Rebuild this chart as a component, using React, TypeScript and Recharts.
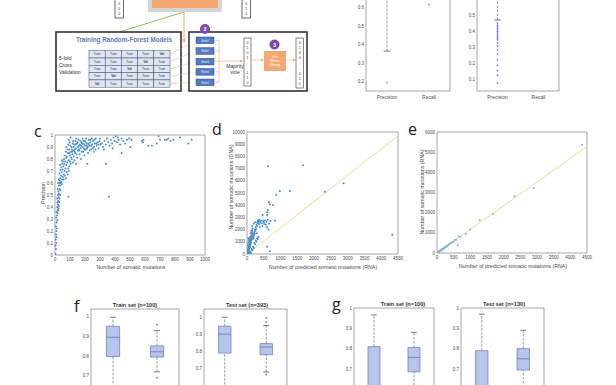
import React from 'react';
import { ScatterChart, Scatter, XAxis, YAxis, ReferenceArea, ReferenceLine } from 'recharts';

const FONT = '"Liberation Sans", Arial, Helvetica, sans-serif';
const YW = 22;
const XH = 12;
const TPAD = 4;
const RPAD = 10;
const FRAME = '#8f8f8f';
const TEXT = '#4a4a4a';

type Pt = [number, number];
type Box = [number, number, number, number, number]; // low whisker, q1, median, q3, high whisker
type Rect = { x: number; y: number; w: number; h: number };

// ---- panel c: precision vs number of somatic mutations
const cXTicks = [0, 100, 200, 300, 400, 500, 600, 700, 800, 900, 1000];
const cYTicks = [0, 0.1, 0.2, 0.3, 0.4, 0.5, 0.6, 0.7, 0.8, 0.9, 1];
const cPoints: Pt[] = [
  [3, 0.01], [6, 0.05], [4, 0.08], [8, 0.1], [5, 0.13], [10, 0.15], [7, 0.17], [9, 0.2], [12, 0.22], [6, 0.24],
  [11, 0.27], [14, 0.29], [8, 0.31], [13, 0.33], [16, 0.35], [10, 0.36], [18, 0.38], [15, 0.4], [21, 0.37], [24, 0.39],
  [19, 0.42], [26, 0.41], [17, 0.44], [22, 0.45], [28, 0.44], [14, 0.47], [25, 0.48], [30, 0.47], [20, 0.5], [27, 0.51],
  [33, 0.5], [23, 0.53], [18, 0.55], [31, 0.55], [36, 0.54], [26, 0.58], [34, 0.58], [21, 0.6], [29, 0.6], [38, 0.6],
  [32, 0.62], [42, 0.61], [25, 0.63], [45, 0.59], [36, 0.64], [48, 0.63],
  [40, 0.66], [52, 0.65], [30, 0.68], [44, 0.69], [58, 0.67], [36, 0.71], [50, 0.71], [64, 0.7], [42, 0.73], [56, 0.74],
  [70, 0.72], [48, 0.76], [62, 0.76], [76, 0.75], [34, 0.75], [54, 0.78], [68, 0.78], [82, 0.77], [45, 0.79], [60, 0.8],
  [90, 0.79], [74, 0.81], [100, 0.78], [112, 0.8], [66, 0.66], [78, 0.69], [88, 0.72], [96, 0.74], [104, 0.76], [120, 0.77],
  [58, 0.63], [72, 0.64], [84, 0.67], [130, 0.79], [92, 0.7], [140, 0.76],
  [64, 0.83], [72, 0.86], [80, 0.82], [86, 0.85], [94, 0.88], [100, 0.83], [106, 0.86], [110, 0.9], [116, 0.84], [122, 0.87],
  [128, 0.92], [134, 0.85], [140, 0.89], [146, 0.93], [152, 0.87], [158, 0.91], [164, 0.84], [170, 0.89], [176, 0.94], [182, 0.9],
  [188, 0.86], [194, 0.92], [200, 0.95], [206, 0.88], [212, 0.93], [218, 0.9], [224, 0.96], [230, 0.91], [236, 0.94], [242, 0.88],
  [248, 0.92], [254, 0.95], [260, 0.9], [266, 0.93], [272, 0.97], [278, 0.91], [284, 0.94], [290, 0.89], [296, 0.95], [302, 0.92],
  [76, 0.9], [88, 0.92], [98, 0.94], [108, 0.81], [118, 0.93], [126, 0.82], [136, 0.95], [148, 0.81], [156, 0.96], [166, 0.92],
  [172, 0.8], [184, 0.97], [196, 0.83], [208, 0.97], [220, 0.85], [232, 0.87], [245, 0.97], [258, 0.86], [270, 0.88], [92, 0.96],
  [104, 0.98], [120, 0.95], [142, 0.97], [162, 0.87], [178, 0.86], [190, 0.95], [202, 0.91], [214, 0.89], [226, 0.93], [240, 0.91],
  [252, 0.89], [264, 0.96], [276, 0.93], [288, 0.92], [300, 0.97], [112, 0.88], [124, 0.9], [132, 0.88], [144, 0.84], [154, 0.9],
  [168, 0.95], [186, 0.93], [198, 0.88], [210, 0.91], [216, 0.76], [82, 0.88], [96, 0.85], [102, 0.91], [114, 0.86], [130, 0.86],
  [138, 0.92], [150, 0.94], [160, 0.88], [174, 0.91], [180, 0.93], [192, 0.89], [204, 0.94], [222, 0.92], [234, 0.96],
  [312, 0.93], [320, 0.9], [330, 0.95], [338, 0.92], [346, 0.97], [356, 0.94], [364, 0.91], [372, 0.96], [380, 0.93], [390, 0.98],
  [398, 0.95], [406, 0.99], [414, 0.94], [424, 0.96], [434, 0.92], [444, 0.97], [456, 0.95], [468, 0.93], [480, 0.96], [494, 0.97],
  [502, 0.9], [510, 0.96], [340, 0.76], [360, 0.485], [89, 0.485], [444, 0.85], [384, 0.89], [420, 0.98], [326, 0.88],
  [580, 0.95], [586, 0.94], [590, 0.96], [622, 0.91], [646, 0.91], [678, 0.93], [690, 0.99], [700, 0.96], [733, 0.96], [745, 0.96],
  [755, 0.97], [770, 0.95], [789, 0.96], [833, 0.98], [889, 0.93], [911, 0.96],
];

// ---- panel d: DNA vs predicted (RNA)
const dXTicks = [0, 500, 1000, 1500, 2000, 2500, 3000, 3500, 4000, 4500];
const dYTicks = [0, 1000, 2000, 3000, 4000, 5000, 6000, 7000, 8000, 9000, 10000];
const dPoints: Pt[] = [
  [10, 50], [20, 120], [30, 80], [15, 250], [40, 200], [25, 350], [50, 300], [35, 450], [60, 150], [45, 600],
  [70, 400], [55, 520], [80, 650], [65, 750], [90, 550], [75, 880], [100, 700], [85, 1000], [110, 820], [95, 1100],
  [120, 950], [105, 1250], [130, 1080], [115, 1350], [140, 1200], [125, 1500], [150, 1320], [135, 1650], [160, 1450], [145, 1800],
  [170, 1580], [155, 1950], [180, 1700], [165, 2100], [190, 1250], [200, 1400], [210, 1550], [220, 1800], [230, 1650], [240, 2000],
  [250, 1900], [260, 2200], [270, 2050], [280, 2400], [290, 1700], [300, 2600], [310, 2300], [320, 2750], [330, 2500], [340, 2650],
  [350, 2800], [360, 2450], [370, 2700], [380, 2200], [400, 2600], [420, 2750], [440, 2500], [460, 2300], [480, 2700], [500, 2600],
  [520, 2450], [540, 2750], [560, 2400], [580, 2650], [600, 2200], [620, 2800], [640, 2000], [660, 2500], [700, 2700], [470, 3200],
  [60, 30], [100, 200], [140, 400], [180, 600], [220, 900], [260, 1100], [300, 1300], [340, 1400], [120, 100], [80, 20],
  [200, 500], [240, 800], [160, 300], [280, 1000], [320, 1200], [20, 20], [5, 10], [45, 90], [35, 160], [50, 1100],
  [30, 900], [25, 700], [40, 1300], [70, 1200], [90, 1400], [110, 1700], [130, 1900], [150, 2300], [200, 2500], [240, 2600],
  [830, 2720], [600, 3200], [600, 3420], [620, 3610], [650, 4240], [680, 4080], [770, 4020], [870, 4840], [980, 5160], [1280, 5160],
  [2320, 5110], [2880, 5790], [630, 7200], [1670, 7280], [4330, 1580], [600, 600], [680, 220],
];
const dFit: Pt[] = [[0, 0], [4500, 9680]];

// ---- panel e: RNA vs predicted (RNA)
const eXTicks = [0, 500, 1000, 1500, 2000, 2500, 3000, 3500, 4000, 4500];
const eYTicks = [0, 1000, 2000, 3000, 4000, 5000, 6000];
const ePoints: Pt[] = [
  [10, 12], [18, 30], [26, 22], [35, 48], [42, 45], [55, 70], [63, 66], [74, 95], [82, 88], [95, 118],
  [104, 110], [116, 142], [125, 138], [137, 168], [148, 160], [158, 196], [172, 190], [185, 222], [196, 215], [210, 250],
  [228, 262], [245, 295], [262, 290], [280, 336], [296, 340], [318, 372], [335, 392], [352, 430], [374, 425], [398, 478],
  [425, 495], [455, 548], [492, 560], [530, 640], [575, 660], [650, 830], [620, 380], [705, 790], [870, 950], [1000, 1160],
  [1280, 1620], [1680, 1930], [2330, 2810], [2900, 3220], [4350, 5350],
];
const eFit: Pt[] = [[0, 0], [4500, 5280]];

// ---- box plots
const boxLabels = ['Precision', 'Recall'];
const aStats: Box[] = [[0.366, 0.7, 0.8, 0.88, 0.99], [0.75, 0.86, 0.92, 0.96, 1.0]];
const aOutliers: Pt[] = [[1, 0.195], [2, 0.618]];
const bStats: Box[] = [[0.469, 0.66, 0.76, 0.85, 0.98], [0.62, 0.8, 0.88, 0.94, 1.0]];
const bOutliers: Pt[] = [
  [1, 0.075], [1, 0.123], [1, 0.152], [1, 0.185], [1, 0.22], [1, 0.255], [1, 0.282], [1, 0.307], [1, 0.324], [1, 0.345],
  [1, 0.355], [1, 0.365], [1, 0.375], [1, 0.386], [1, 0.396], [1, 0.407], [1, 0.417], [1, 0.427], [1, 0.437], [1, 0.448],
];
const fTrainStats: Box[] = [[0.6, 0.798, 0.896, 0.952, 0.998], [0.72, 0.795, 0.822, 0.852, 0.93]];
const fTrainOutliers: Pt[] = [[2, 0.96], [2, 0.69]];
const fTestStats: Box[] = [[0.56, 0.79, 0.9, 0.946, 0.998], [0.68, 0.78, 0.825, 0.845, 0.95]];
const fTestOutliers: Pt[] = [[2, 0.994], [2, 0.97], [2, 0.665]];
const gTrainStats: Box[] = [[0.42, 0.52, 0.6, 0.81, 0.966], [0.56, 0.686, 0.757, 0.806, 0.88]];
const gTestStats: Box[] = [[0.42, 0.5, 0.58, 0.79, 0.97], [0.57, 0.695, 0.75, 0.8, 0.89]];

const fmt = (v: number) => String(v);

function ScatterPanel({ r, points, xTicks, yTicks, color, fit }: {
  r: Rect; points: Pt[]; xTicks: number[]; yTicks: number[]; color: string; fit?: Pt[];
}) {
  const data = points.map(([x, y]) => ({ x, y }));
  const xd: [number, number] = [xTicks[0], xTicks[xTicks.length - 1]];
  const yd: [number, number] = [yTicks[0], yTicks[yTicks.length - 1]];
  return (
    <div style={{ position: 'absolute', left: r.x - YW, top: r.y - TPAD }}>
      <ScatterChart width={YW + r.w + RPAD} height={TPAD + r.h + XH} margin={{ top: TPAD, right: RPAD, left: 0, bottom: 0 }}>
        <XAxis type="number" dataKey="x" domain={xd} ticks={xTicks} interval={0} allowDataOverflow height={XH}
          tick={{ fontSize: 4.5, fill: TEXT }} tickLine={false} axisLine={false} tickSize={0} tickMargin={3} tickFormatter={fmt} />
        <YAxis type="number" dataKey="y" domain={yd} ticks={yTicks} interval={0} allowDataOverflow width={YW}
          tick={{ fontSize: 4.5, fill: TEXT }} tickLine={false} axisLine={false} tickSize={0} tickMargin={2} tickFormatter={fmt} />
        <ReferenceArea x1={xd[0]} x2={xd[1]} y1={yd[0]} y2={yd[1]} fill="none" stroke={FRAME} strokeWidth={0.8} ifOverflow="visible" />
        {fit && (
          <ReferenceLine segment={fit.map(([x, y]) => ({ x, y }))} stroke="#ecd89c" strokeWidth={1} ifOverflow="visible" />
        )}
        <Scatter data={data} isAnimationActive={false}
          shape={(p: any) => <circle cx={p.cx} cy={p.cy} r={1} fill={color} />} />
      </ScatterChart>
    </div>
  );
}

function BoxPanel({ r, stats, outliers, yDomain, yTicks, outlierColor, cap = 0.07, showX = true }: {
  r: Rect; stats: Box[]; outliers: Pt[]; yDomain: [number, number]; yTicks: number[]; outlierColor: string; cap?: number; showX?: boolean;
}) {
  const half = 0.15;
  const pts = outliers.map(([x, y]) => ({ x, y }));
  const centers = stats.map((s, i) => ({ x: i + 1, y: s[2] }));
  return (
    <div style={{ position: 'absolute', left: r.x - YW, top: r.y - TPAD }}>
      <ScatterChart width={YW + r.w + RPAD} height={TPAD + r.h + XH} margin={{ top: TPAD, right: RPAD, left: 0, bottom: 0 }}>
        <XAxis type="number" dataKey="x" domain={[0.5, 2.5]} ticks={[1, 2]} interval={0} allowDataOverflow height={XH}
          tick={showX ? { fontSize: 5, fill: TEXT } : false} tickLine={false} axisLine={false} tickSize={0} tickMargin={4}
          tickFormatter={(v: number) => boxLabels[Math.round(v) - 1]} />
        <YAxis type="number" dataKey="y" domain={yDomain} ticks={yTicks} interval={0} allowDataOverflow width={YW}
          tick={{ fontSize: 4.5, fill: TEXT }} tickLine={false} axisLine={false} tickSize={0} tickMargin={2} tickFormatter={fmt} />
        <ReferenceArea x1={0.5} x2={2.5} y1={yDomain[0]} y2={yDomain[1]} fill="none" stroke={FRAME} strokeWidth={0.8} ifOverflow="visible" />
        {stats.map((s, i) => {
          const x = i + 1;
          return (
            <React.Fragment key={i}>
              <ReferenceLine segment={[{ x, y: s[3] }, { x, y: s[4] }]} stroke="#555" strokeWidth={0.6} strokeDasharray="2.5 1.5" ifOverflow="visible" />
              <ReferenceLine segment={[{ x, y: s[0] }, { x, y: s[1] }]} stroke="#555" strokeWidth={0.6} strokeDasharray="2.5 1.5" ifOverflow="visible" />
              <ReferenceLine segment={[{ x: x - cap, y: s[4] }, { x: x + cap, y: s[4] }]} stroke="#444" strokeWidth={0.7} ifOverflow="visible" />
              <ReferenceLine segment={[{ x: x - cap, y: s[0] }, { x: x + cap, y: s[0] }]} stroke="#444" strokeWidth={0.7} ifOverflow="visible" />
              <ReferenceArea x1={x - half} x2={x + half} y1={s[1]} y2={s[3]} fill="#b7c5ec" fillOpacity={1} stroke="#6577b8" strokeWidth={0.7} ifOverflow="visible" />
              <ReferenceLine segment={[{ x: x - half, y: s[2] }, { x: x + half, y: s[2] }]} stroke="#5466a8" strokeWidth={0.7} ifOverflow="visible" />
            </React.Fragment>
          );
        })}
        <Scatter data={centers} isAnimationActive={false} shape={() => <g />} />
        <Scatter data={pts} isAnimationActive={false}
          shape={(p: any) => (
            <path d={`M${p.cx - 1},${p.cy}h2M${p.cx},${p.cy - 1}v2`} stroke={outlierColor} strokeWidth={0.6} />
          )} />
      </ScatterChart>
    </div>
  );
}

function Diagram() {
  const tx = 89, ty = 50.7, cw = 16.2, rh = 7.3;
  const modelY = [37, 47.7, 58.3, 68.5, 79];
  const orange = '#f4a872';
  return (
    <g>
      <rect x={148} y={-2} width={74} height={14} fill="#d4d4d4" />
      <rect x={152} y={-2} width={66} height={10} fill={orange} />
      <rect x={115} y={-2} width={8.5} height={20} fill="#fff" stroke="#444" strokeWidth={0.8} />
      <rect x={242} y={-2} width={8.5} height={20} fill="#fff" stroke="#444" strokeWidth={0.8} />
      {[3, 8, 13].map((y) => (
        <React.Fragment key={y}>
          <text x={119.2} y={y + 1.5} fontSize={3.5} textAnchor="middle" fill="#333">0</text>
          <text x={246.2} y={y + 1.5} fontSize={3.5} textAnchor="middle" fill="#333">{y === 8 ? '1' : '0'}</text>
        </React.Fragment>
      ))}
      <line x1={184} y1={12} x2={119} y2={32} stroke="#8cc45a" strokeWidth={1} />
      <line x1={184} y1={12} x2={184} y2={41} stroke={orange} strokeWidth={1} />
      <path d="M182,39.5 L184,43 L186,39.5 Z" fill={orange} />

      <rect x={56} y={32} width={125} height={59} fill="#fff" stroke="#333" strokeWidth={1.6} />
      <text x={124} y={42} fontSize={6.3} fontWeight="bold" textAnchor="middle" fill="#5a7cb8">Training Random-Forest Models</text>
      <text x={59} y={59.5} fontSize={5} fill="#333">5-fold</text>
      <text x={59} y={66.5} fontSize={5} fill="#333">Cross</text>
      <text x={59} y={73.5} fontSize={5} fill="#333">Validation</text>
      {[0, 1, 2, 3, 4].map((row) =>
        [0, 1, 2, 3, 4].map((col) => {
          const val = col === 4 - row;
          return (
            <g key={`${row}-${col}`}>
              <rect x={tx + col * cw} y={ty + row * rh} width={cw} height={rh} fill="#dde6f2" stroke="#3c4a66" strokeWidth={0.5} />
              <text x={tx + col * cw + cw / 2} y={ty + row * rh + 4.7} fontSize={3} textAnchor="middle" fill="#333" fontWeight={val ? 'bold' : 'normal'}>
                {val ? 'Val' : 'Train'}
              </text>
            </g>
          );
        })
      )}
      {modelY.map((my, i) => (
        <line key={i} x1={170} y1={ty + i * rh + rh / 2} x2={196} y2={my + 3.3} stroke={orange} strokeWidth={0.5} />
      ))}

      <rect x={189} y={32} width={118} height={59} fill="#fff" stroke="#333" strokeWidth={1.6} />
      {modelY.map((my, i) => (
        <g key={i}>
          <rect x={196} y={my} width={18} height={6.7} fill="#4f7cc0" stroke="#2e4f8a" strokeWidth={0.5} />
          <text x={205} y={my + 4.5} fontSize={2.8} textAnchor="middle" fill="#e8eefa">Model</text>
          <line x1={214} y1={my + 3.3} x2={219} y2={my + 3.3} stroke={orange} strokeWidth={0.5} />
        </g>
      ))}
      <circle cx={205} cy={29} r={5} fill="#7d45b5" />
      <text x={205} y={31} fontSize={5.5} textAnchor="middle" fill="#fff" fontWeight="bold">2</text>
      <line x1={219} y1={40.3} x2={219} y2={82.3} stroke={orange} strokeWidth={0.6} />
      <line x1={219} y1={61} x2={241} y2={61} stroke={orange} strokeWidth={0.6} />
      <path d="M240,59.6 L243,61 L240,62.4 Z" fill={orange} />
      <text x={235} y={68} fontSize={5} textAnchor="middle" fill="#333">Majority</text>
      <text x={235} y={74} fontSize={5} textAnchor="middle" fill="#333">vote</text>

      <rect x={244} y={38} width={7} height={48} fill="#fff" stroke="#333" strokeWidth={0.6} />
      {['0', '1', '0', '1', '.', '.', '1', '1', '0'].map((c, i) => (
        <text key={i} x={247.5} y={43.5 + i * 5} fontSize={3.5} textAnchor="middle" fill="#333">{c}</text>
      ))}
      <line x1={251} y1={60} x2={262} y2={60} stroke={orange} strokeWidth={0.6} />
      <path d="M261,58.6 L264,60 L261,61.4 Z" fill={orange} />
      <rect x={264} y={51} width={22} height={20} fill={orange} />
      <text x={275} y={58} fontSize={2.9} textAnchor="middle" fill="#fff">Min</text>
      <text x={275} y={62} fontSize={2.9} textAnchor="middle" fill="#fff">Mutant</text>
      <text x={275} y={66} fontSize={2.9} textAnchor="middle" fill="#fff">Filtering</text>
      <circle cx={274.5} cy={44.5} r={5} fill="#7d45b5" />
      <text x={274.5} y={46.5} fontSize={5.5} textAnchor="middle" fill="#fff" fontWeight="bold">3</text>
      <line x1={286} y1={60} x2={294} y2={60} stroke={orange} strokeWidth={0.6} />
      <path d="M293,58.6 L296,60 L293,61.4 Z" fill={orange} />
      <rect x={296} y={38} width={7.5} height={50} fill="#fff" stroke="#333" strokeWidth={0.6} />
      {['0', '1', '0', '0', '.', '.', '0', '1', '0'].map((c, i) => (
        <text key={i} x={299.7} y={43.5 + i * 5.2} fontSize={3.5} textAnchor="middle" fill="#333">{c}</text>
      ))}
    </g>
  );
}

export default function App() {
  return (
    <div style={{ position: 'fixed', left: 0, top: 0, width: 616, height: 385, overflow: 'hidden', background: '#fff', fontFamily: FONT }}>
      <ScatterPanel r={{ x: 55, y: 135, w: 150, h: 120 }} points={cPoints} xTicks={cXTicks} yTicks={cYTicks} color="#4a8ccb" />
      <ScatterPanel r={{ x: 247, y: 132, w: 151, h: 122 }} points={dPoints} xTicks={dXTicks} yTicks={dYTicks} color="#4a8ccb" fit={dFit} />
      <ScatterPanel r={{ x: 437, y: 132, w: 150, h: 121 }} points={ePoints} xTicks={eXTicks} yTicks={eYTicks} color="#86b6c6" fit={eFit} />

      <BoxPanel r={{ x: 366, y: -66, w: 84, h: 157 }} stats={aStats} outliers={aOutliers} yDomain={[0.15, 1.0]}
        yTicks={[0.2, 0.3, 0.4, 0.5, 0.6]} outlierColor="#777" cap={0.08} />
      <BoxPanel r={{ x: 477, y: -65, w: 82, h: 156 }} stats={bStats} outliers={bOutliers} yDomain={[0.025, 1.0]}
        yTicks={[0.1, 0.2, 0.3, 0.4, 0.5]} outlierColor="#4a6fc0" cap={0.08} />

      <BoxPanel r={{ x: 91, y: 309, w: 88, h: 106 }} stats={fTrainStats} outliers={fTrainOutliers} yDomain={[0.5, 1.04]}
        yTicks={[0.7, 0.8, 0.9, 1]} outlierColor="#666" showX={false} />
      <BoxPanel r={{ x: 204, y: 309, w: 83, h: 94 }} stats={fTestStats} outliers={fTestOutliers} yDomain={[0.5, 1.046]}
        yTicks={[0.7, 0.8, 0.9, 1]} outlierColor="#666" showX={false} />
      <BoxPanel r={{ x: 354, y: 308, w: 80, h: 122 }} stats={gTrainStats} outliers={[]} yDomain={[0.4, 1.0]}
        yTicks={[0.7, 0.8, 0.9, 1]} outlierColor="#666" showX={false} />
      <BoxPanel r={{ x: 461, y: 308, w: 83, h: 122 }} stats={gTestStats} outliers={[]} yDomain={[0.4, 1.0]}
        yTicks={[0.7, 0.8, 0.9, 1]} outlierColor="#666" showX={false} />

      <svg width={616} height={385} style={{ position: 'absolute', left: 0, top: 0, pointerEvents: 'none' }}>
        <Diagram />
        <g fontFamily='"Open Sans", "Noto Sans", sans-serif' fontSize={16} fill="#222">
          <text x={34} y={137}>c</text>
          <text x={212} y={135}>d</text>
          <text x={408} y={135}>e</text>
          <text x={74} y={312}>f</text>
          <text x={332} y={310}>g</text>
        </g>
        <g fontSize={5.3} fill={TEXT} textAnchor="middle">
          <text x={131} y={269}>Number of somatic mutations</text>
          <text transform="translate(45,193) rotate(-90)">Precision</text>
          <text x={323} y={269}>Number of predicted somatic mutations (RNA)</text>
          <text transform="translate(233,187) rotate(-90)">Number of somatic mutations (DNA)</text>
          <text x={513} y={268}>Number of predicted somatic mutations (RNA)</text>
          <text transform="translate(424,192) rotate(-90)">Number of somatic mutations (RNA)</text>
        </g>
        <g fontSize={5.6} fontWeight="bold" fill="#333" textAnchor="middle">
          <text x={135} y={307}>Train set (n=100)</text>
          <text x={247} y={307}>Test set (n=393)</text>
          <text x={403} y={306}>Train set (n=100)</text>
          <text x={504} y={306}>Test set (n=130)</text>
        </g>
      </svg>
    </div>
  );
}
